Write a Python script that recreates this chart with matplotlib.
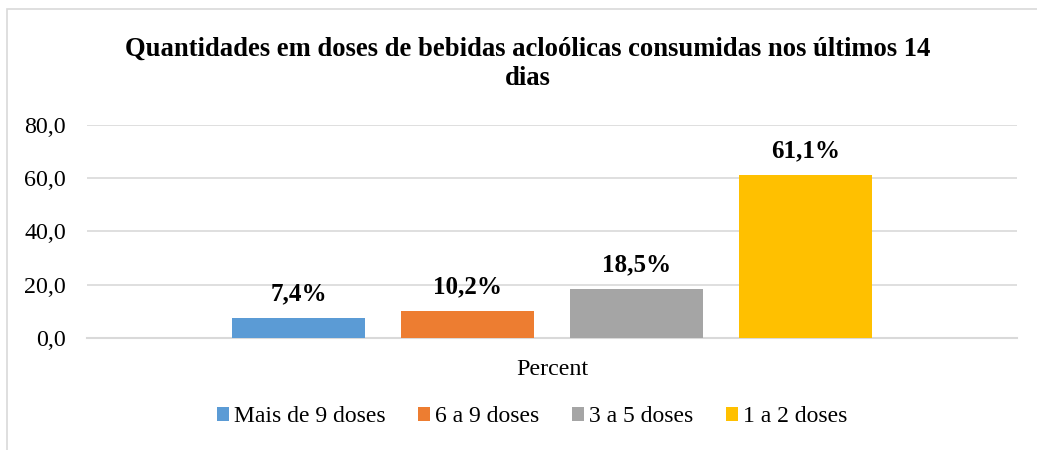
import matplotlib
matplotlib.use("Agg")
import matplotlib.pyplot as plt
from matplotlib.patches import Rectangle
from matplotlib.ticker import FuncFormatter

categories = ["Percent"]
series_names = ["Mais de 9 doses", "6 a 9 doses", "3 a 5 doses", "1 a 2 doses"]
values = [7.4, 10.2, 18.5, 61.1]
colors = ["#5B9BD5", "#ED7D31", "#A5A5A5", "#FFC000"]
title = "Quantidades em doses de bebidas acloólicas consumidas nos últimos 14\ndias"

plt.rcParams['font.family'] = ['Liberation Serif', 'DejaVu Serif']

W, H = 1037, 450
fig = plt.figure(figsize=(W / 100, H / 100), dpi=100)
ax = fig.add_axes([87 / W, 1 - 338 / H, (1017 - 87) / W, (338 - 125) / H])

# chart border
fig.patches.append(Rectangle((7 / W, -0.05), 1.2, 1 - 9 / H + 0.05, transform=fig.transFigure,
                             fill=False, edgecolor="#D9D9D9", linewidth=1.2, zorder=0))

bar_w = 133 / 930
step = 169 / 930
n = len(values)
for i, (name, v, c) in enumerate(zip(series_names, values, colors)):
    x = 0 + (i - (n - 1) / 2) * step
    ax.bar(x, v, width=bar_w, color=c, label=name, zorder=3)
    ax.text(x, v + 4.7, f"{v:.1f}%".replace(".", ","), ha="center", va="bottom",
            fontsize=18, fontweight="bold", color="black")

ax.set_xlim(-0.5, 0.5)
ax.set_ylim(0, 80)
ax.set_yticks([0, 20, 40, 60, 80])
ax.yaxis.set_major_formatter(FuncFormatter(lambda v, p: f"{v:.1f}".replace(".", ",")))
ax.set_xticks([0])
ax.set_xticklabels(categories)
ax.tick_params(axis="both", length=0, labelsize=17.3, colors="black")
ax.tick_params(axis="y", pad=15)
ax.tick_params(axis="x", pad=15)
ax.grid(axis="y", color="#D9D9D9", linewidth=1.2, zorder=0)
for s in ["top", "right", "left"]:
    ax.spines[s].set_visible(False)
ax.spines["bottom"].set_color("#D9D9D9")
ax.spines["bottom"].set_linewidth(1.5)

fig.text(528 / W, 1 - 64 / H, title, ha="center", va="center", fontsize=19.2,
         fontweight="bold", linespacing=1.2)

fig.legend(loc="center", bbox_to_anchor=(532 / W, 1 - 417 / H), ncol=4, frameon=False,
           fontsize=17, handlelength=0.5, handleheight=0.5, handletextpad=0.2,
           columnspacing=1.4)

fig.savefig("out.png", dpi=100)
